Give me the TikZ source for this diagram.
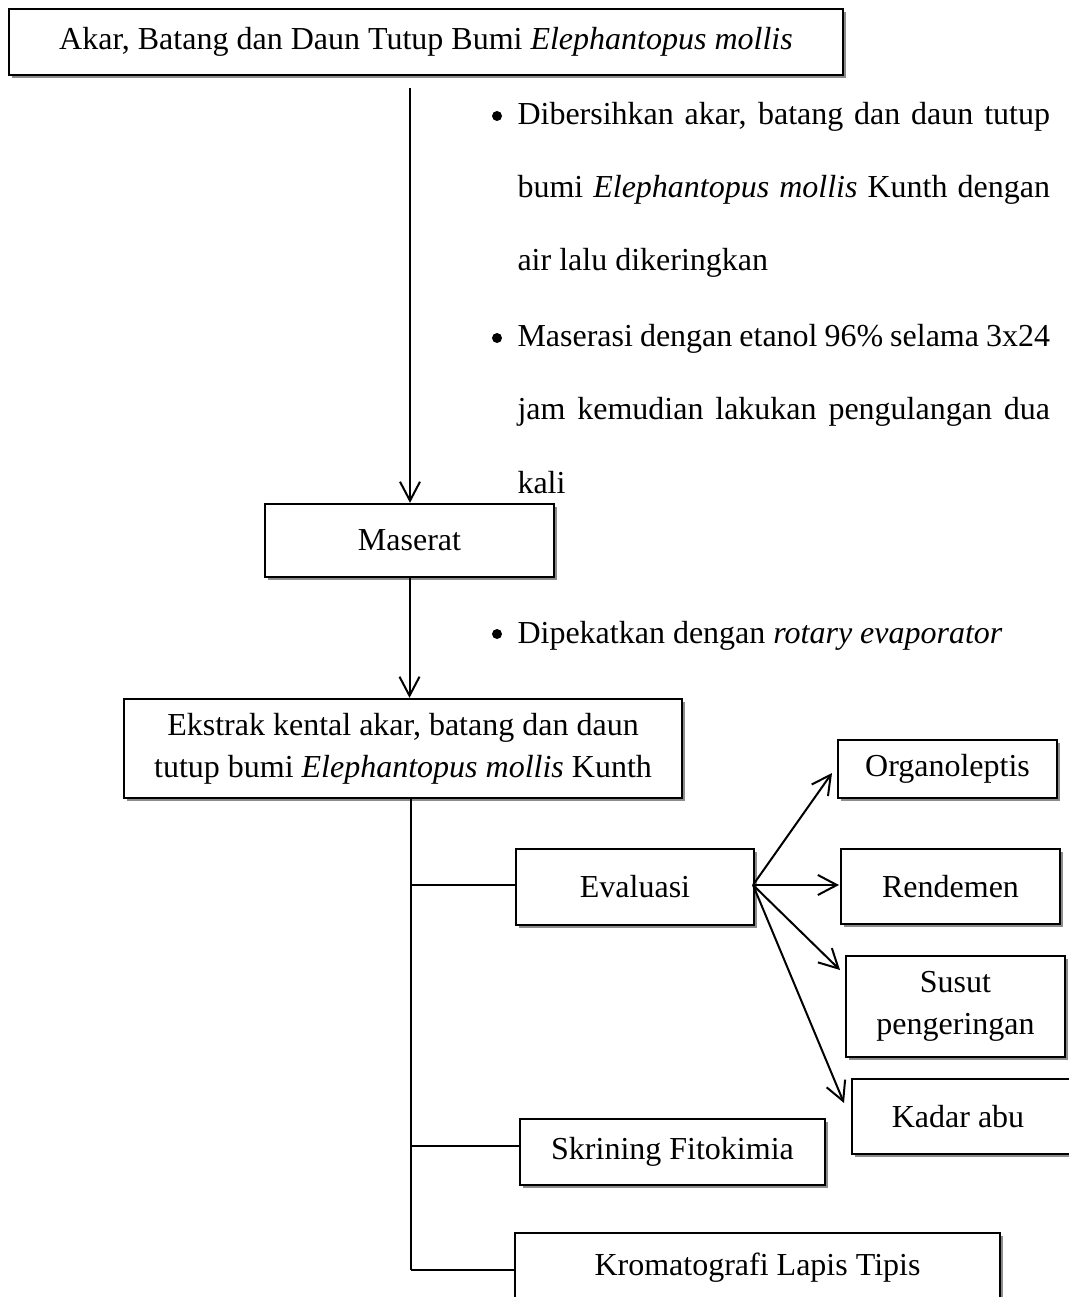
\documentclass[tikz,border=0pt]{standalone}
\usepackage{fontspec}
\setmainfont{Liberation Serif}
\usetikzlibrary{arrows.meta,shadows,calc}
\newcommand{\diagfont}{\fontsize{12.8}{16.8}\selectfont}
\begin{document}
\begin{tikzpicture}[x=0.4pt,y=-0.4pt,
  box/.style={draw, line width=0.9pt, fill=white, inner sep=0pt, align=center, font=\diagfont,
     drop shadow={shadow xshift=1.2pt, shadow yshift=-1.2pt, fill=black!45, opacity=1}},
  conn/.style={line width=0.8pt},
  arr/.style={conn, -{Straight Barb[length=7.6pt,width=8pt]}},
  txt/.style={inner sep=0pt, font=\diagfont, anchor=base west},
  bul/.style={circle, fill=black, inner sep=0pt, minimum size=4pt}]
\useasboundingbox (0,0) rectangle (1068,1297);

% boxes
\node[box, minimum width=333.6pt, minimum height=26.4pt] (top) at (426,42)
  {Akar, Batang dan Daun Tutup Bumi \textit{Elephantopus mollis}};
\node[box, minimum width=115.6pt, minimum height=29.2pt] (mas) at (409.5,540.5) {Maserat};
\node[box, minimum width=223.2pt, minimum height=39.6pt] (eks) at (403,748.5)
  {Ekstrak kental akar, batang dan daun\\tutup bumi \textit{Elephantopus mollis} Kunth};
\node[box, minimum width=95.2pt, minimum height=30.4pt] (eva) at (635,887) {Evaluasi};
\node[box, minimum width=87.6pt, minimum height=23.2pt] (org) at (947.5,769) {Organoleptis};
\node[box, minimum width=87.6pt, minimum height=30pt] (ren) at (950.5,886.5) {Rendemen};
\node[box, minimum width=87.6pt, minimum height=40.4pt] (sus) at (955.5,1006.5) {Susut\\pengeringan};
\node[box, minimum width=92pt, minimum height=30pt] (kad) at (967,1116.5) {Kadar abu\hspace*{7.2pt}};
\node[box, minimum width=122pt, minimum height=26.4pt] (skr) at (672.5,1152) {Skrining Fitokimia};
\node[box, minimum width=194pt, minimum height=28pt] (kro) at (757.5,1268) {Kromatografi Lapis Tipis};

% bullet texts
\node[bul] (b1) at (497,116) {};
\node[txt] (l1) at (517,125) {\makebox[213pt][s]{Dibersihkan akar, batang dan daun tutup}};
\node[txt] (l2) at (517,198) {\makebox[213pt][s]{bumi \textit{Elephantopus mollis} Kunth dengan}};
\node[txt] (l3) at (517,271) {air lalu dikeringkan};
\node[bul] (b2) at (497,338) {};
\node[txt] (l4) at (517,347) {\makebox[213pt][s]{Maserasi dengan etanol 96\% selama 3x24}};
\node[txt] (l5) at (517,420) {\makebox[213pt][s]{jam kemudian lakukan pengulangan dua}};
\node[txt] (l6) at (517,493) {kali};
\node[bul] (b3) at (497,634) {};
\node[txt] (l7) at (517,643) {Dipekatkan dengan \textit{rotary evaporator}};

% connectors
\coordinate (s1) at (410,88);
\draw[arr] (s1) -- (s1 |- mas.north);
\draw[arr] (mas.south) -- (mas.south |- eks.north);

\coordinate (tr) at (411,798);
\coordinate (j1) at (411,885);
\coordinate (j2) at (411,1146);
\coordinate (j3) at (411,1270);
\draw[conn] (tr) -- (j3);
\draw[conn] (j1) -- (j1 -| eva.west);
\draw[conn] (j2) -- (j2 -| skr.west);
\draw[conn] (j3) -- (j3 -| kro.west);

\coordinate (ev) at (753,885);
\coordinate (t1) at (832,773);
\coordinate (t2) at (839,885);
\coordinate (t3) at (840,970);
\coordinate (t4) at (844,1103);
\draw[arr] (ev) -- (t1);
\draw[arr] (ev) -- (t2);
\draw[arr] (ev) -- (t3);
\draw[arr] (ev) -- (t4);
\end{tikzpicture}
\end{document}
